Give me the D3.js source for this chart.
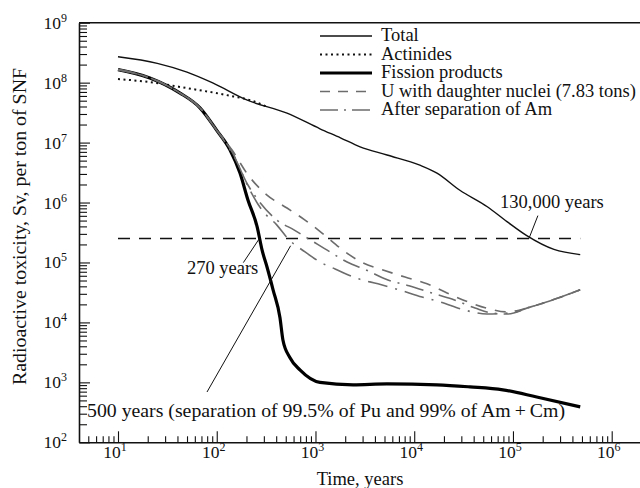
<!DOCTYPE html>
<html><head><meta charset="utf-8">
<script src="https://cdn.jsdelivr.net/npm/d3@7"></script>
<style>
html,body{margin:0;padding:0;background:#fff;}
svg{display:block;}
text{font-family:"Liberation Serif","Times New Roman",serif;fill:#111;}
</style></head>
<body>
<svg id="c" width="640" height="488"></svg>
<script>
// ---------------- data ----------------
const totalT = [10, 25, 50, 91, 204, 515, 1110, 1790, 2830, 5300, 11400, 17000, 29000, 55000, 87000, 138000, 260000, 480000];
const totalV = [2.7e8, 2.1e8, 1.5e8, 9.9e7, 5.1e7, 3.1e7, 1.7e7, 1.2e7, 8.5e6, 6.2e6, 4.2e6, 3.1e6, 1.6e6, 8.5e5, 4.8e5, 2.8e5, 1.65e5, 1.35e5];

const actT = [10, 21, 50, 126, 235, 330];
const actV = [1.15e8, 1.02e8, 8.1e7, 6.2e7, 4.9e7, 3.9e7];

const fisT = [10, 21, 42.5, 67.6, 100, 136, 172, 207, 257, 288, 323, 372, 437, 468, 550, 700, 1110, 2400, 5300, 17000, 36700, 79000, 174000, 480000];
const fisV = [1.65e8, 1.2e8, 6.7e7, 3.8e7, 1.6e7, 7.6e6, 3.1e6, 1.1e6, 3.9e5, 1.6e5, 8.4e4, 3.5e4, 1.2e4, 5.1e3, 2.6e3, 1.6e3, 1.0e3, 9.1e2, 9.4e2, 9.1e2, 8.4e2, 7.5e2, 5.7e2, 3.9e2];

const g1T = [10, 21, 42.5, 67.6, 100, 143, 207, 323, 515, 784, 1165, 1900, 2960, 4830, 8070, 13500, 21500, 35000, 58500, 87000, 149000, 267000, 480000];
const g1V = [1.65e8, 1.2e8, 6.7e7, 3.8e7, 1.6e7, 7.5e6, 2.9e6, 1.33e6, 8.1e5, 5.1e5, 3.1e5, 1.6e5, 1.0e5, 7.5e4, 5.7e4, 4.4e4, 3.1e4, 2.2e4, 1.67e4, 1.5e4, 1.8e4, 2.45e4, 3.5e4];

const g2T = [10, 21, 42.5, 67.6, 100, 143, 207, 262, 407, 605, 880, 1400, 2090, 3250, 5420, 8850, 15100, 24100, 41300, 60000, 87000, 149000, 267000, 480000];
const g2V = [1.65e8, 1.2e8, 6.7e7, 3.8e7, 1.6e7, 7.0e6, 1.96e6, 1.1e6, 5.1e5, 3.5e5, 2.4e5, 1.5e5, 1.02e5, 7.5e4, 5.1e4, 4.1e4, 3.1e4, 2.45e4, 1.74e4, 1.44e4, 1.38e4, 1.8e4, 2.45e4, 3.5e4];

const g3T = [10, 21, 42.5, 67.6, 100, 153, 217, 287, 407, 515, 784, 1110, 1580, 2570, 4290, 7010, 12000, 18200, 32700, 54600, 93300, 149000, 267000, 480000];
const g3V = [1.65e8, 1.2e8, 6.7e7, 3.8e7, 1.6e7, 5.5e6, 1.6e6, 7.5e5, 4.2e5, 2.6e5, 1.5e5, 1.02e5, 7.8e4, 5.5e4, 4.4e4, 3.5e4, 2.65e4, 2.2e4, 1.6e4, 1.38e4, 1.44e4, 1.8e4, 2.45e4, 3.5e4];

const uLevelT = [10, 480000];
const uLevelV = 2.5e5;

const xTickExp = [1, 2, 3, 4, 5, 6];
const yTickExp = [2, 3, 4, 5, 6, 7, 8, 9];

const legendLabels = ["Total", "Actinides", "Fission products", "U with daughter nuclei (7.83 tons)", "After separation of Am"];
const xTitle = "Time, years";
const yTitle = "Radioactive toxicity, Sv, per ton of SNF";
const ann130 = {t: 1.45e5, v: 2.5e5, text: "130,000 years"};
const ann270 = {t: 270, v: 2.5e5, text: "270 years"};
const ann500 = {t: 560, v: 1.9e5, text: "500 years (separation of 99.5% of Pu and 99% of Am\u2009+\u2009Cm)"};

// ---------------- scales ----------------
const svg = d3.select("#c");
const x = d3.scaleLog().domain([10, 1e6]).range([118, 611.7]);
const y = d3.scaleLog().domain([1e2, 1e9]).range([442.3, 22.7]);
const xAx = x.copy().domain([x.invert(79), x.invert(640)]).range([79, 640]);
const X0 = 79, X1 = 640, Y0 = y(1e2), Y1 = y(1e9);

const zip = (T, V) => T.map((t, i) => [t, Array.isArray(V) ? V[i] : V]);
const line = d3.line().x(d => x(d[0])).y(d => y(d[1])).curve(d3.curveMonotoneX);

const gray = "#6c6c6c";

// ---------------- axes ----------------
const xMinor = [];
for (let d = 0; d <= 5; d++) for (let k = 2; k <= 9; k++) { const t = k * Math.pow(10, d); if (xAx(t) > 82 && t < 1e6) xMinor.push(t); }
const yMinor = [];
for (let d = 2; d <= 8; d++) for (let k = 2; k <= 9; k++) yMinor.push(k * Math.pow(10, d));

svg.append("g").attr("transform", `translate(0,${Y0})`)
  .call(d3.axisBottom(xAx).tickValues(xTickExp.map(e => Math.pow(10, e))).tickSize(-11).tickSizeOuter(0).tickFormat(""));
svg.append("g").attr("transform", `translate(0,${Y0})`)
  .call(d3.axisBottom(xAx).tickValues(xMinor).tickSize(-6).tickSizeOuter(0).tickFormat(""))
  .select(".domain").remove();
svg.append("g").attr("transform", `translate(${X0},0)`)
  .call(d3.axisLeft(y).tickValues(yTickExp.map(e => Math.pow(10, e))).tickSize(-11).tickSizeOuter(0).tickFormat(""));
svg.append("g").attr("transform", `translate(${X0},0)`)
  .call(d3.axisLeft(y).tickValues(yMinor).tickSize(-8).tickSizeOuter(0).tickFormat(""))
  .select(".domain").remove();
svg.selectAll(".domain").attr("stroke", "#111").attr("stroke-width", 1.6);
svg.selectAll(".tick line").attr("stroke", "#111").attr("stroke-width", 1.1);
// top frame
svg.append("line").attr("x1", X0).attr("x2", X1).attr("y1", Y1).attr("y2", Y1).attr("stroke", "#111").attr("stroke-width", 1.6);

// tick labels
const fs = 18.5;
xTickExp.forEach(e => {
  const t = svg.append("text").attr("x", x(Math.pow(10, e)) - 3).attr("y", 458).attr("text-anchor", "middle").attr("font-size", 17.5);
  t.append("tspan").text("10");
  t.append("tspan").attr("dy", -7).attr("font-size", 12).text(e);
});
yTickExp.forEach(e => {
  const t = svg.append("text").attr("x", 67).attr("y", y(Math.pow(10, e)) + 6).attr("text-anchor", "end").attr("font-size", 17.5);
  t.append("tspan").text("10");
  t.append("tspan").attr("dy", -7).attr("font-size", 12).text(e);
});

// titles
svg.append("text").attr("x", 360).attr("y", 485).attr("text-anchor", "middle").attr("font-size", fs).text(xTitle);
svg.append("text").attr("transform", `translate(25.5,226.5) rotate(-90)`).attr("text-anchor", "middle")
  .attr("font-size", fs).attr("textLength", 317).attr("lengthAdjust", "spacingAndGlyphs").text(yTitle);

// ---------------- series ----------------
svg.append("path").attr("d", line(zip(uLevelT, uLevelV))).attr("fill", "none").attr("stroke", "#111")
  .attr("stroke-width", 1.5).attr("stroke-dasharray", "12,9");
svg.append("path").attr("d", line(zip(totalT, totalV))).attr("fill", "none").attr("stroke", "#111").attr("stroke-width", 1.4);
svg.append("path").attr("d", line(zip(actT, actV))).attr("fill", "none").attr("stroke", "#111").attr("stroke-width", 2)
  .attr("stroke-dasharray", "2,3.5");
svg.append("path").attr("d", line(zip(fisT, fisV))).attr("fill", "none").attr("stroke", "#000").attr("stroke-width", 3.2);
svg.append("path").attr("d", line(zip(g1T, g1V))).attr("fill", "none").attr("stroke", gray).attr("stroke-width", 1.6)
  .attr("stroke-dasharray", "11,9");
svg.append("path").attr("d", line(zip(g2T, g2V))).attr("fill", "none").attr("stroke", gray).attr("stroke-width", 1.6)
  .attr("stroke-dasharray", "18,7,2,7");
svg.append("path").attr("d", line(zip(g3T, g3V))).attr("fill", "none").attr("stroke", gray).attr("stroke-width", 1.6)
  .attr("stroke-dasharray", "20,8,2,8");

// ---------------- annotations ----------------
{
  const ax = x(ann130.t), ay = y(ann130.v);
  svg.append("line").attr("x1", ax).attr("y1", ay).attr("x2", ax + 9).attr("y2", ay - 23).attr("stroke", "#111").attr("stroke-width", 1);
  svg.append("text").attr("x", 500).attr("y", 208).attr("font-size", fs).text(ann130.text);
}
{
  const ax = x(ann270.t), ay = y(ann270.v);
  svg.append("line").attr("x1", ax).attr("y1", ay).attr("x2", ax - 16).attr("y2", ay + 24).attr("stroke", "#111").attr("stroke-width", 1);
  svg.append("text").attr("x", ax - 1).attr("y", 274).attr("text-anchor", "end").attr("font-size", fs).text(ann270.text);
}
{
  const ax = x(ann500.t), ay = y(ann500.v);
  svg.append("line").attr("x1", ax).attr("y1", ay).attr("x2", 207).attr("y2", 392).attr("stroke", "#111").attr("stroke-width", 1);
  svg.append("text").attr("x", 87).attr("y", 416.5).attr("font-size", fs)
    .attr("textLength", 478).attr("lengthAdjust", "spacingAndGlyphs").text(ann500.text);
}

// ---------------- legend ----------------
const legStyles = [
  {c: "#111", w: 1.4, d: null},
  {c: "#111", w: 2, d: "2,3.5"},
  {c: "#000", w: 3.2, d: null},
  {c: gray, w: 1.6, d: "10,8"},
  {c: gray, w: 1.6, d: "18,6,2,6"}
];
legendLabels.forEach((lab, i) => {
  const by = 41 + i * 18.5;
  const l = svg.append("line").attr("x1", 320).attr("x2", 372).attr("y1", by - 5).attr("y2", by - 5)
    .attr("stroke", legStyles[i].c).attr("stroke-width", legStyles[i].w);
  if (legStyles[i].d) l.attr("stroke-dasharray", legStyles[i].d);
  svg.append("text").attr("x", 381).attr("y", by).attr("font-size", fs).text(lab);
});
</script>
</body></html>
